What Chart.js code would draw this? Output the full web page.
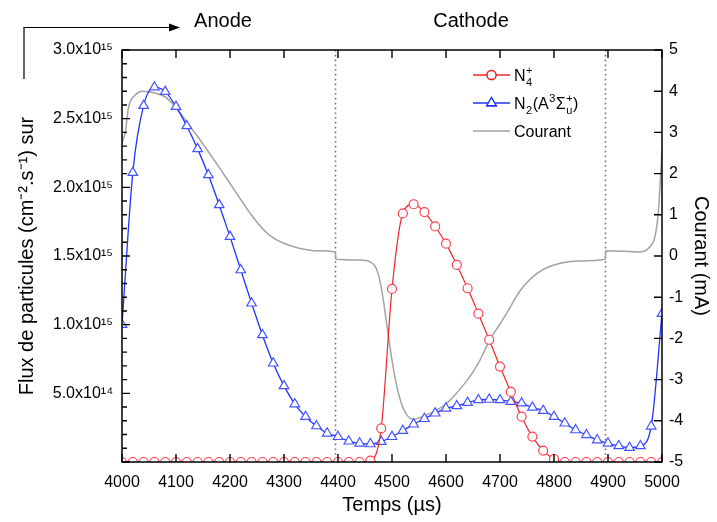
<!DOCTYPE html>
<html>
<head>
<meta charset="utf-8">
<script src="https://cdn.jsdelivr.net/npm/chart.js@4/dist/chart.umd.min.js"></script>
<style>
  html, body { margin: 0; padding: 0; background: #fff; }
</style>
</head>
<body>
<canvas id="chart" width="717" height="522"></canvas>
<script>
'use strict';

// sample times (µs) for the two flux series
const times = [4000, 4020, 4040, 4060, 4080, 4100, 4120, 4140, 4160, 4180,
  4200, 4220, 4240, 4260, 4280, 4300, 4320, 4340, 4360, 4380,
  4400, 4420, 4440, 4460, 4480, 4500, 4520, 4540, 4560, 4580,
  4600, 4620, 4640, 4660, 4680, 4700, 4720, 4740, 4760, 4780,
  4800, 4820, 4840, 4860, 4880, 4900, 4920, 4940, 4960, 4980, 5000];

// flux, in units of 1e15 cm-2.s-1
const n4 = [0, 0, 0, 0, 0, 0, 0, 0, 0, 0,
  0, 0, 0, 0, 0, 0, 0, 0, 0, 0,
  0, 0, 0, 0.01, 0.245, 1.26, 1.81, 1.877, 1.82, 1.715,
  1.59, 1.435, 1.265, 1.08, 0.89, 0.695, 0.51, 0.33, 0.185, 0.083,
  0.022, 0, 0, 0, 0, 0, 0, 0, 0, 0, 0];
const n2 = [1.0, 2.107, 2.595, 2.729, 2.697, 2.588, 2.447, 2.28, 2.09, 1.872,
  1.641, 1.398, 1.156, 0.925, 0.719, 0.554, 0.422, 0.33, 0.262, 0.209,
  0.184, 0.151, 0.136, 0.131, 0.148, 0.184, 0.228, 0.275, 0.315, 0.355,
  0.391, 0.408, 0.432, 0.452, 0.455, 0.452, 0.439, 0.428, 0.398, 0.374,
  0.33, 0.282, 0.233, 0.197, 0.16, 0.136, 0.117, 0.104, 0.117, 0.26, 1.08];

// current (mA), right axis
const courantTimes = [4000, 4006, 4012, 4024, 4039, 4060, 4080, 4100, 4120, 4140,
  4160, 4180, 4200, 4220, 4240, 4260, 4280, 4300, 4320, 4340,
  4360, 4395, 4396, 4440, 4459, 4472, 4481, 4490, 4499, 4509,
  4521, 4539, 4564, 4583, 4601, 4640, 4660, 4681, 4700, 4712,
  4737, 4768, 4800, 4848, 4895, 4896, 4960, 4978, 4987, 4993, 4997, 5000];
const courant = [2.75, 3.0, 3.6, 3.9, 4.0, 3.96, 3.86, 3.6, 3.25, 2.9,
  2.53, 2.15, 1.76, 1.37, 0.99, 0.67, 0.44, 0.31, 0.22, 0.16,
  0.13, 0.10, -0.08, -0.1, -0.14, -0.34, -0.83, -1.63, -2.44, -3.17,
  -3.70, -3.96, -3.86, -3.74, -3.58, -3.0, -2.6, -2.04, -1.65, -1.4,
  -0.85, -0.43, -0.22, -0.12, -0.08, 0.13, 0.10, 0.23, 0.47, 1.04, 1.84, 2.57];

const phaseEdges = [4395, 4895];
const phaseNames = ['Anode', 'Cathode'];

const FONT = "'Liberation Sans', Arial, Helvetica, sans-serif";
const RED = '#ee2626';
const BLUE = '#2233ff';
const GREY = '#a2a2a2';

// legend labels with sub/superscripts
const legendItems = [
  {color: RED, marker: 'circle', parts: [{t: 'N'}, {sub: '4', sup: '+'}]},
  {color: BLUE, marker: 'triangle', parts: [{t: 'N'}, {sub: '2'}, {t: '(A'}, {sup: '3'}, {t: 'Σ'}, {sub: 'u', sup: '+'}, {t: ')'}]},
  {color: GREY, marker: null, parts: [{t: 'Courant'}]}
];

function richText(ctx, parts, x, y) {
  for (const p of parts) {
    if (p.t) {
      ctx.font = '16px ' + FONT;
      ctx.fillText(p.t, x, y);
      x += ctx.measureText(p.t).width;
    } else {
      ctx.font = '11px ' + FONT;
      let w = 0;
      if (p.sup) { ctx.fillText(p.sup, x + 0.5, y - 7); w = Math.max(w, ctx.measureText(p.sup).width); }
      if (p.sub) { ctx.fillText(p.sub, x + 0.5, y + 5); w = Math.max(w, ctx.measureText(p.sub).width); }
      x += w + 1;
    }
  }
}

const decor = {
  id: 'decor',
  beforeDatasetsDraw(chart) {
    const {ctx, chartArea: a, scales: {x}} = chart;
    ctx.save();
    ctx.strokeStyle = '#707070';
    ctx.lineWidth = 1.6;
    ctx.setLineDash([1.6, 3.2]);
    for (const t of phaseEdges) {
      const px = Math.round(x.getPixelForValue(t)) + 0.5;
      ctx.beginPath();
      ctx.moveTo(px, a.top);
      ctx.lineTo(px, a.bottom);
      ctx.stroke();
    }
    ctx.restore();
  },
  afterDraw(chart) {
    const {ctx, chartArea: a, scales: {x, y, y2}} = chart;
    ctx.save();
    ctx.strokeStyle = '#000';
    ctx.lineWidth = 1.5;
    ctx.strokeRect(a.left, a.top, a.right - a.left, a.bottom - a.top);

    // inward tick marks
    ctx.lineWidth = 1.4;
    ctx.beginPath();
    for (const t of x.ticks) {
      const px = x.getPixelForValue(t.value);
      ctx.moveTo(px, a.bottom); ctx.lineTo(px, a.bottom - 8);
      ctx.moveTo(px, a.top); ctx.lineTo(px, a.top + 8);
    }
    for (const t of y.ticks) {
      const py = y.getPixelForValue(t.value);
      const major = Math.round(t.value * 10) % 5 === 0;
      ctx.moveTo(a.left, py); ctx.lineTo(a.left + (major ? 8 : 5), py);
    }
    for (const t of y2.ticks) {
      const py = y2.getPixelForValue(t.value);
      ctx.moveTo(a.right, py); ctx.lineTo(a.right - 8, py);
    }
    ctx.stroke();

    // legend
    let ly = 75;
    ctx.textBaseline = 'alphabetic';
    ctx.textAlign = 'left';
    for (const it of legendItems) {
      ctx.strokeStyle = it.color;
      ctx.lineWidth = 1.3;
      ctx.beginPath();
      ctx.moveTo(473, ly); ctx.lineTo(510, ly);
      ctx.stroke();
      if (it.marker) {
        Chart.helpers.drawPoint(ctx, {pointStyle: it.marker, radius: it.marker === 'circle' ? 4.5 : 5.5, rotation: 0, borderWidth: 1.2}, 491.5, ly);
        ctx.fillStyle = '#fff';
        ctx.fill();
        ctx.stroke();
      }
      ctx.fillStyle = '#000';
      richText(ctx, it.parts, 514, ly + 6);
      ly += 28;
    }

    // phase labels and arrow
    ctx.font = '20px ' + FONT;
    ctx.fillStyle = '#000';
    ctx.textAlign = 'center';
    ctx.fillText(phaseNames[0], 223, 27);
    ctx.fillText(phaseNames[1], 471, 27);
    ctx.strokeStyle = '#000';
    ctx.lineWidth = 1.2;
    ctx.beginPath();
    ctx.moveTo(24, 79); ctx.lineTo(24, 27.5); ctx.lineTo(172, 27.5);
    ctx.stroke();
    ctx.beginPath();
    ctx.moveTo(180, 27.5); ctx.lineTo(169, 23.5); ctx.lineTo(169, 31.5);
    ctx.closePath();
    ctx.fill();
    ctx.restore();
  }
};

const pts = (xs, ys) => xs.map((t, i) => ({x: t, y: ys[i]}));

const tickFont = {family: FONT, size: 16};
const titleFont = {family: FONT, size: 20};

new Chart(document.getElementById('chart'), {
  type: 'line',
  data: {
    datasets: [
      {label: 'N4+', data: pts(times, n4), yAxisID: 'y',
        borderColor: RED, borderWidth: 1.2, cubicInterpolationMode: 'monotone',
        pointStyle: 'circle', pointRadius: 4.5, pointBorderWidth: 1.2,
        pointBorderColor: '#ff4050', pointBackgroundColor: '#fff'},
      {label: 'N2(A3Σu+)', data: pts(times, n2), yAxisID: 'y',
        borderColor: BLUE, borderWidth: 1.3, cubicInterpolationMode: 'monotone',
        pointStyle: 'triangle', pointRadius: 5.5, pointBorderWidth: 1.2,
        pointBorderColor: '#4455ff', pointBackgroundColor: '#fff'},
      {label: 'Courant', data: pts(courantTimes, courant), yAxisID: 'y2',
        borderColor: GREY, borderWidth: 1.5, cubicInterpolationMode: 'monotone',
        pointRadius: 0}
    ]
  },
  options: {
    responsive: false,
    animation: false,
    layout: {padding: {top: 50}},
    plugins: {legend: {display: false}, tooltip: {enabled: false}},
    scales: {
      x: {
        type: 'linear', min: 4000, max: 5000,
        grid: {display: false, drawTicks: false}, border: {display: false},
        ticks: {stepSize: 100, autoSkip: false, maxRotation: 0, padding: 11, color: '#000', font: tickFont,
          callback: v => String(v)},
        title: {display: true, text: 'Temps (µs)', color: '#000', font: titleFont, padding: {top: 4, bottom: 5}},
        afterFit(s) { s.height = 60; }
      },
      y: {
        position: 'left', min: 0, max: 3,
        grid: {display: false, drawTicks: false}, border: {display: false},
        ticks: {
          stepSize: 0.1, autoSkip: false, padding: 9, color: '#000', font: tickFont,
          callback(v) {
            const k = Math.round(v * 10);
            if (k === 0 || k % 5) return '';
            return k === 5 ? '5.0x10¹⁴' : (k / 10).toFixed(1) + 'x10¹⁵';
          }
        },
        title: {display: true, text: 'Flux de particules (cm⁻².s⁻¹) sur', color: '#000', font: titleFont, padding: {top: 15, bottom: 0}},
        afterFit(s) { s.width = 122; }
      },
      y2: {
        position: 'right', min: -5, max: 5,
        grid: {display: false, drawTicks: false}, border: {display: false},
        ticks: {stepSize: 1, autoSkip: false, padding: 7, color: '#000', font: tickFont},
        title: {display: true, text: 'Courant (mA)', color: '#000', font: titleFont, padding: {top: 4, bottom: 0}},
        afterFit(s) { s.width = 55; }
      }
    }
  },
  plugins: [decor]
});
</script>
</body>
</html>
